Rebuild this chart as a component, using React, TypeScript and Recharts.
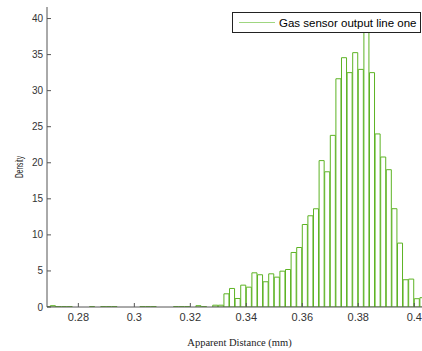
import { BarChart, Bar, XAxis, YAxis, Legend } from "recharts";

// histogram bin centres (bin width 0.002 mm)
const binCenters = [
  0.269, 0.271, 0.273, 0.275, 0.277, 0.279, 0.281, 0.283, 0.285, 0.287,
  0.289, 0.291, 0.293, 0.295, 0.297, 0.299, 0.301, 0.303, 0.305, 0.307,
  0.309, 0.311, 0.313, 0.315, 0.317, 0.319, 0.321, 0.323, 0.325, 0.327,
  0.329, 0.331, 0.333, 0.335, 0.337, 0.339, 0.341, 0.343, 0.345, 0.347,
  0.349, 0.351, 0.353, 0.355, 0.357, 0.359, 0.361, 0.363, 0.365, 0.367,
  0.369, 0.371, 0.373, 0.375, 0.377, 0.379, 0.381, 0.383, 0.385, 0.387,
  0.389, 0.391, 0.393, 0.395, 0.397, 0.399, 0.401, 0.403,
];

const densities = [
  0.05, 0.18, 0.05, 0.05, 0.05, 0, 0, 0, 0.05, 0,
  0.05, 0.05, 0.05, 0, 0, 0, 0, 0.05, 0.05, 0.05,
  0, 0, 0, 0.05, 0.05, 0.05, 0, 0.18, 0.05, 0,
  0.25, 0.25, 1.83, 2.57, 1.18, 3.03, 2.75, 4.74, 4.47, 3.5,
  4.6, 4.14, 4.97, 5.2, 7.56, 8.25, 11.44, 12.65, 13.62, 20.3,
  18.75, 23.8, 31.65, 34.57, 32.5, 35.27, 32.95, 39.5, 32.5, 24.0,
  20.8, 19.04, 13.63, 8.86, 3.78, 3.87, 1.15, 1.29,
];

const xTicks = [0.28, 0.3, 0.32, 0.34, 0.36, 0.38, 0.4];
const yTicks = [0, 5, 10, 15, 20, 25, 30, 35, 40];
const seriesName = "Gas sensor output line one";

const data = binCenters.map((x, i) => ({ x, density: densities[i] }));

const GREEN = "#5db324";
const AXIS = "#555";
const SANS = "'Liberation Sans', Arial, sans-serif";

const LegendBox = () => (
  <div
    style={{
      boxSizing: "border-box",
      width: 189,
      height: 21,
      border: "1px solid #222",
      background: "#fff",
      display: "flex",
      alignItems: "center",
      overflow: "hidden",
      whiteSpace: "nowrap",
      fontFamily: SANS,
      fontSize: 11.5,
      color: "#000",
    }}
  >
    <span style={{ display: "inline-block", flex: "none", width: 36, borderTop: "1.5px solid #9fd680", marginLeft: 6, marginRight: 4 }} />
    <span>{seriesName}</span>
  </div>
);

const DensityLabel = () => (
  <text
    x={19}
    y={167}
    transform="rotate(-90 19 167)"
    textAnchor="middle"
    dominantBaseline="central"
    fontSize={10}
    fontFamily={SANS}
    fill="#222"
    textLength={22}
    lengthAdjust="spacingAndGlyphs"
  >
    Density
  </text>
);

const DistanceLabel = () => (
  <text
    x={239.5}
    y={342}
    textAnchor="middle"
    dominantBaseline="central"
    fontSize={10.5}
    fontFamily="'Liberation Serif', 'Times New Roman', serif"
    fill="#222"
  >
    Apparent Distance (mm)
  </text>
);

export default function App() {
  return (
    <div style={{ position: "fixed", top: 0, left: 0, width: 422, height: 351, overflow: "hidden", background: "#fff" }}>
      <BarChart
        width={432}
        height={351}
        data={data}
        margin={{ top: 7, right: 4, left: 0, bottom: 0 }}
        barCategoryGap={0}
        barGap={0}
      >
        <XAxis
          xAxisId={0}
          dataKey="x"
          type="number"
          domain={[0.2688, 0.4049]}
          allowDataOverflow
          ticks={xTicks}
          tickFormatter={(v: number) => String(Number(v.toFixed(2)))}
          height={44}
          tickSize={-4}
          tickMargin={10}
          stroke={AXIS}
          tick={{ fill: "#333", fontSize: 11, fontFamily: SANS }}
          label={DistanceLabel}
        />
        <XAxis
          xAxisId="top"
          orientation="top"
          dataKey="x"
          type="number"
          domain={[0.2688, 0.4049]}
          allowDataOverflow
          ticks={xTicks}
          height={0}
          tickSize={-4}
          tick={false}
          stroke={AXIS}
        />
        <YAxis
          type="number"
          domain={[0, 41.6]}
          allowDataOverflow
          ticks={yTicks}
          width={47}
          tickSize={-4}
          tickMargin={8}
          stroke={AXIS}
          tick={{ fill: "#333", fontSize: 10, fontFamily: SANS }}
          label={DensityLabel}
        />
        <Bar
          dataKey="density"
          name={seriesName}
          xAxisId={0}
          fill="#fff"
          stroke={GREEN}
          strokeWidth={1}
          barSize={5.6}
          isAnimationActive={false}
        />
        <Legend
          layout="vertical"
          align="center"
          verticalAlign="middle"
          wrapperStyle={{ top: 12, left: 232, width: 189, height: 21 }}
          content={LegendBox}
        />
      </BarChart>
    </div>
  );
}
